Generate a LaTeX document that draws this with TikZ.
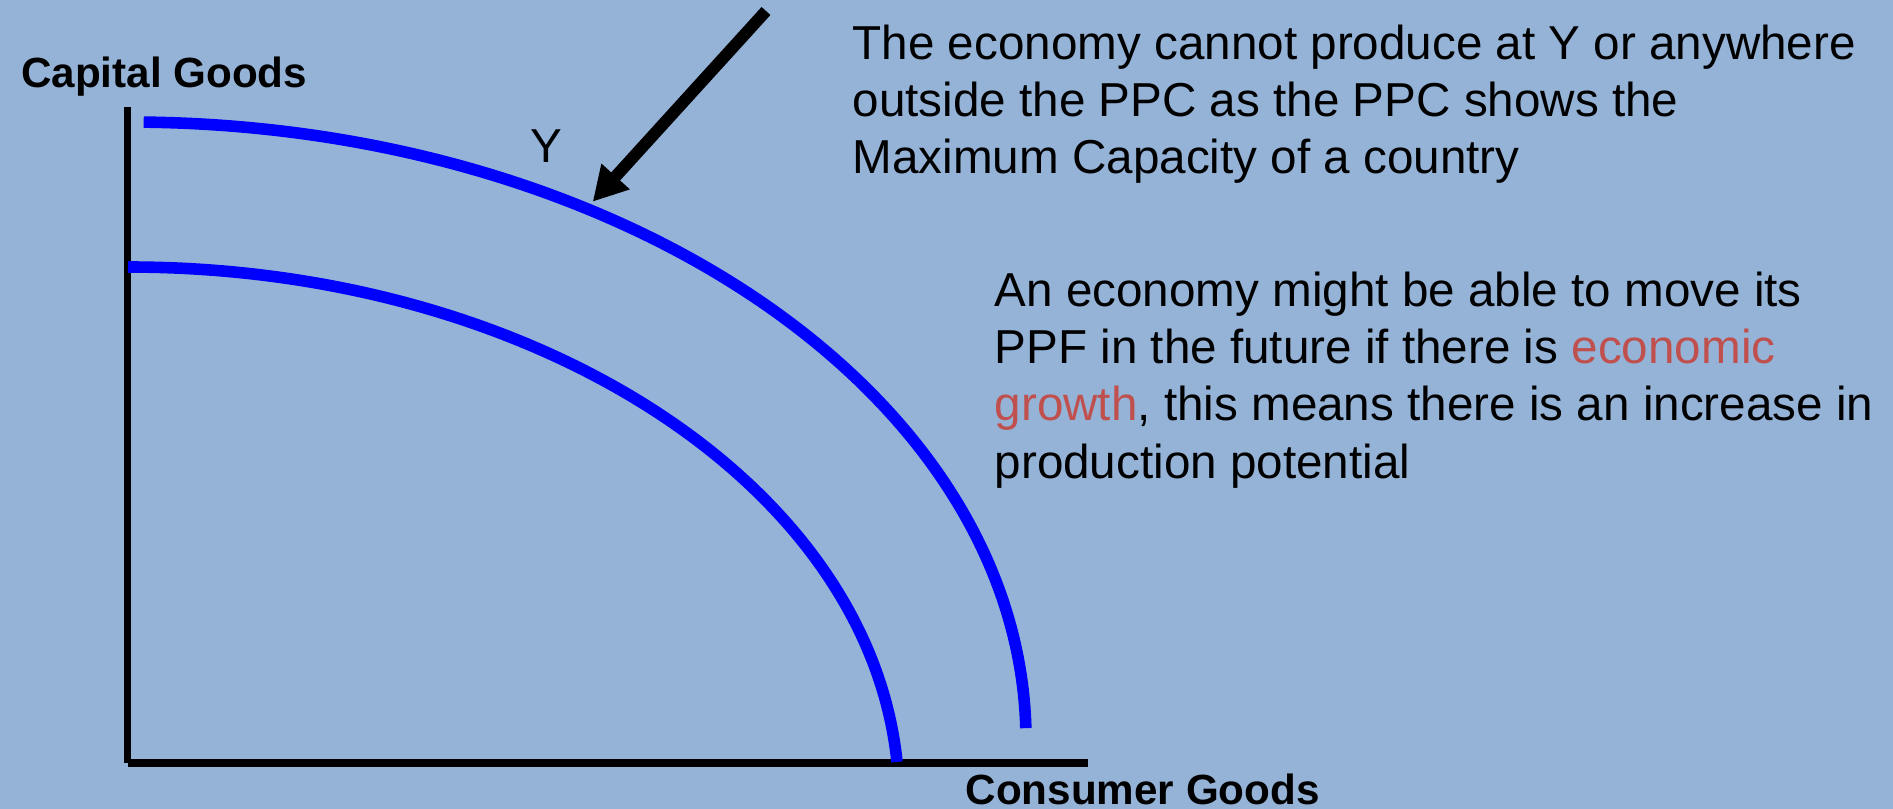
\documentclass[tikz,border=0pt]{standalone}
\usepackage{fontspec}
\setmainfont{Liberation Sans}
\usetikzlibrary{arrows.meta}

\begin{document}
\begin{tikzpicture}[x=0.01cm, y=-0.01cm]

% Colori
\definecolor{bgBlue}{HTML}{95B3D7}
\definecolor{ppcBlue}{HTML}{0000FF}
\definecolor{ecoRed}{HTML}{C0504D}

% Stili
\tikzset{
  axisline/.style={black, line width=2.1pt},
  ppc/.style={ppcBlue, line width=3.3pt},
  pointer/.style={black, line width=3.4pt, -{Triangle[length=9.7pt,width=10.2pt]}},
  axislabel/.style={font=\fontsize{12}{14}\selectfont\bfseries, inner sep=0pt},
  note/.style={font=\fontsize{13.54}{16.22}\selectfont, align=left, inner sep=0pt}
}

% Sfondo
\fill[bgBlue] (0,0) rectangle (1893,809);
\useasboundingbox (0,0) rectangle (1893,809);

% Assi
\coordinate (origin) at (127.5,763);
\coordinate (ytop) at (127.5,107);
\coordinate (xend) at (1087.5,763);
\draw[axisline] (ytop) -- (origin);
\draw[axisline] (origin) -- (xend);

% Curve delle possibilita produttive
\draw[ppc] (128,267) arc[start angle=-90, end angle=-4.1, x radius=771, y radius=533];
\draw[ppc] (143.7,122.1) arc[start angle=-89, end angle=-1.1, x radius=898, y radius=618];

% Etichette degli assi
\node[axislabel, anchor=base west] (capital) at (20.5,87.5) {Capital Goods};
\node[axislabel, anchor=base west] (consumer) at (965,804.5) {Consumer Goods};

% Punto Y e freccia
\node[note, anchor=base] (ylabel) at (546.7,162.3) {Y};
\coordinate (arrowtail) at (766,11);
\coordinate (pointY) at (592.7,201.7);
\draw[pointer] (arrowtail) -- (pointY);

% Testi a destra (ancorati all'ultima riga)
\node[note, anchor=base west] (note1) at (852,173.3)
  {The economy cannot produce at Y or anywhere\\
   outside the PPC as the PPC shows the\\
   Maximum Capacity of a country};
\node[note, anchor=base west] (note2) at (994,478)
  {An economy might be able to move its\\
   PPF in the future if there is \textcolor{ecoRed}{economic}\\
   \textcolor{ecoRed}{growth}, this means there is an increase in\\
   production potential};
\end{tikzpicture}
\end{document}
